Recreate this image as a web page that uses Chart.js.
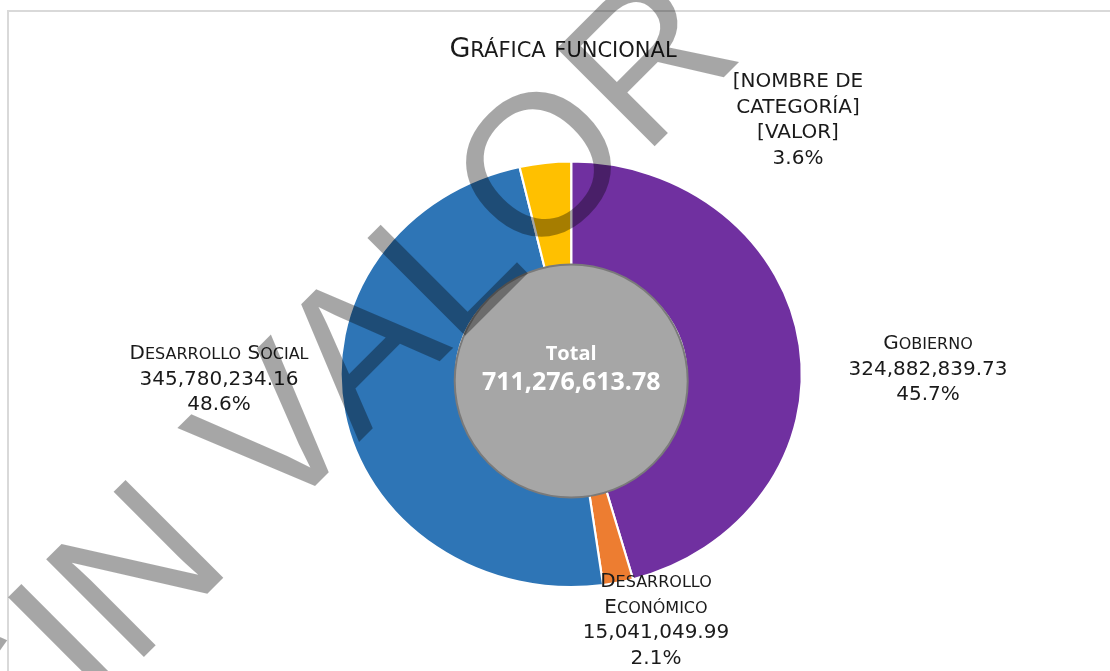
<!DOCTYPE html>
<html lang="es">
<head>
<meta charset="utf-8">
<title>Gráfica funcional</title>
<script src="https://cdn.jsdelivr.net/npm/chart.js@4.4.1/dist/chart.umd.min.js"></script>
<style>
  html, body { margin: 0; padding: 0; background: #fff; }
  #marco { position: relative; width: 1110px; height: 671px; overflow: hidden; }
  #borde { position: absolute; left: 7px; top: 10px; width: 1200px; height: 800px; border: 2px solid #d9d9d9; }
  #graficaFuncional { position: absolute; left: 0; top: 0; }
</style>
</head>
<body>
<div id="marco">
  <div id="borde"></div>
  <canvas id="graficaFuncional" width="1110" height="671"></canvas>
</div>
<script>
// Datos de la gráfica funcional
const categorias = ['Gobierno', 'Desarrollo Económico', 'Desarrollo Social', '[NOMBRE DE CATEGORÍA]'];
const valores = [324882839.73, 15041049.99, 345780234.16, 25572489.90];
const colores = ['#7030A0', '#ED7D31', '#2E75B6', '#FFC000'];

// Texto de las etiquetas (nombre partido en líneas, valor fijo o null para mostrar el importe)
const lineasNombre = [['Gobierno'], ['Desarrollo', 'Económico'], ['Desarrollo Social'], ['[NOMBRE DE', 'CATEGORÍA]']];
const textoValor = [null, null, null, '[VALOR]'];
const versalitas = [true, true, true, false];

const titulo = 'Gráfica funcional';
const textoTotal = 'Total';
const marcaAgua = 'SIN VALOR';

// Posición de cada etiqueta: centro x, centro y de la primera línea
const posEtiquetas = [[928, 342], [656, 580], [219, 352], [798, 80]];

const total = valores.reduce((a, b) => a + b, 0);
const formato = v => v.toLocaleString('en-US', { minimumFractionDigits: 2, maximumFractionDigits: 2 });
const fuente = '"DejaVu Sans", Verdana, sans-serif';
const escalaX = 1.084; // la imagen original está estirada a lo ancho

// Dibuja texto en versalitas centrado en x (las minúsculas se pintan como mayúsculas pequeñas)
function dibujarVersalitas(ctx, texto, x, y, tam, tamPeq) {
  const tramos = [];
  for (const ch of texto) {
    const peq = ch !== ch.toUpperCase();
    const ultimo = tramos[tramos.length - 1];
    if (ultimo && ultimo.peq === peq) ultimo.txt += ch.toUpperCase();
    else tramos.push({ peq: peq, txt: ch.toUpperCase() });
  }
  let ancho = 0;
  tramos.forEach(t => {
    ctx.font = (t.peq ? tamPeq : tam) + 'px ' + fuente;
    t.w = ctx.measureText(t.txt).width;
    ancho += t.w;
  });
  let px = x - ancho / 2;
  ctx.textAlign = 'left';
  tramos.forEach(t => {
    ctx.font = (t.peq ? tamPeq : tam) + 'px ' + fuente;
    ctx.fillText(t.txt, px, y);
    px += t.w;
  });
}

// Estira el anillo en horizontal como en la imagen de referencia
const pluginElipse = {
  id: 'elipse',
  beforeDatasetsDraw(chart) {
    const { ctx, chartArea } = chart;
    const cx = (chartArea.left + chartArea.right) / 2;
    const cy = (chartArea.top + chartArea.bottom) / 2;
    ctx.save();
    ctx.translate(cx, cy);
    ctx.scale(escalaX, 1);
    ctx.translate(-cx, -cy);
  },
  afterDatasetsDraw(chart) {
    chart.ctx.restore();
  }
};

// Círculo central, título, etiquetas y marca de agua
const pluginTextos = {
  id: 'textos',
  afterDraw(chart) {
    const ctx = chart.ctx;
    const cx = (chart.chartArea.left + chart.chartArea.right) / 2;

    // círculo gris con el total
    ctx.save();
    ctx.beginPath();
    ctx.arc(cx, 381, 116.5, 0, Math.PI * 2);
    ctx.fillStyle = '#a6a6a6';
    ctx.fill();
    ctx.lineWidth = 2;
    ctx.strokeStyle = '#7a7a7a';
    ctx.stroke();
    ctx.fillStyle = '#ffffff';
    ctx.textAlign = 'center';
    ctx.textBaseline = 'middle';
    ctx.font = 'bold 20px "Open Sans", "Noto Sans", sans-serif';
    ctx.fillText(textoTotal, cx, 354);
    ctx.font = 'bold 25px "Open Sans", "Noto Sans", sans-serif';
    ctx.fillText(formato(total), cx, 383);
    ctx.restore();

    // título
    ctx.save();
    ctx.fillStyle = '#1a1a1a';
    ctx.textBaseline = 'alphabetic';
    dibujarVersalitas(ctx, titulo, 563, 57, 27, 21);

    // etiquetas de datos
    const altoLinea = 25.5;
    categorias.forEach((c, i) => {
      const lineas = lineasNombre[i].slice();
      lineas.push(textoValor[i] !== null ? textoValor[i] : formato(valores[i]));
      lineas.push((valores[i] / total * 100).toFixed(1) + '%');
      const [x, y0] = posEtiquetas[i];
      lineas.forEach((l, j) => {
        const y = y0 + 7.3 + j * altoLinea;
        const esNombre = j < lineasNombre[i].length;
        if (esNombre && versalitas[i]) {
          dibujarVersalitas(ctx, l, x, y, 20, 16);
        } else {
          ctx.font = '20px ' + fuente;
          ctx.textAlign = 'center';
          ctx.fillText(l, x, y);
        }
      });
    });
    ctx.restore();

    // marca de agua
    ctx.save();
    ctx.translate(-2, 803);
    ctx.rotate(-Math.PI / 4);
    ctx.font = '201px "Liberation Sans", Arial, sans-serif';
    ctx.fillStyle = 'rgba(0, 0, 0, 0.35)';
    ctx.textAlign = 'left';
    ctx.textBaseline = 'alphabetic';
    ctx.fillText(marcaAgua, 0, 0);
    ctx.restore();
  }
};

const ctxFuncional = document.getElementById('graficaFuncional').getContext('2d');

const graficaFuncional = new Chart(ctxFuncional, {
  type: 'doughnut',
  data: {
    labels: categorias,
    datasets: [{
      data: valores,
      backgroundColor: colores,
      borderColor: '#ffffff',
      borderWidth: 2,
      clip: false
    }]
  },
  options: {
    responsive: false,
    animation: false,
    events: [],
    cutout: '50%',
    layout: { padding: { left: 357.5, right: 325.1, top: 160.6, bottom: 83 } },
    plugins: {
      legend: { display: false },
      tooltip: { enabled: false },
      title: { display: false }
    }
  },
  plugins: [pluginElipse, pluginTextos]
});
</script>
</body>
</html>
